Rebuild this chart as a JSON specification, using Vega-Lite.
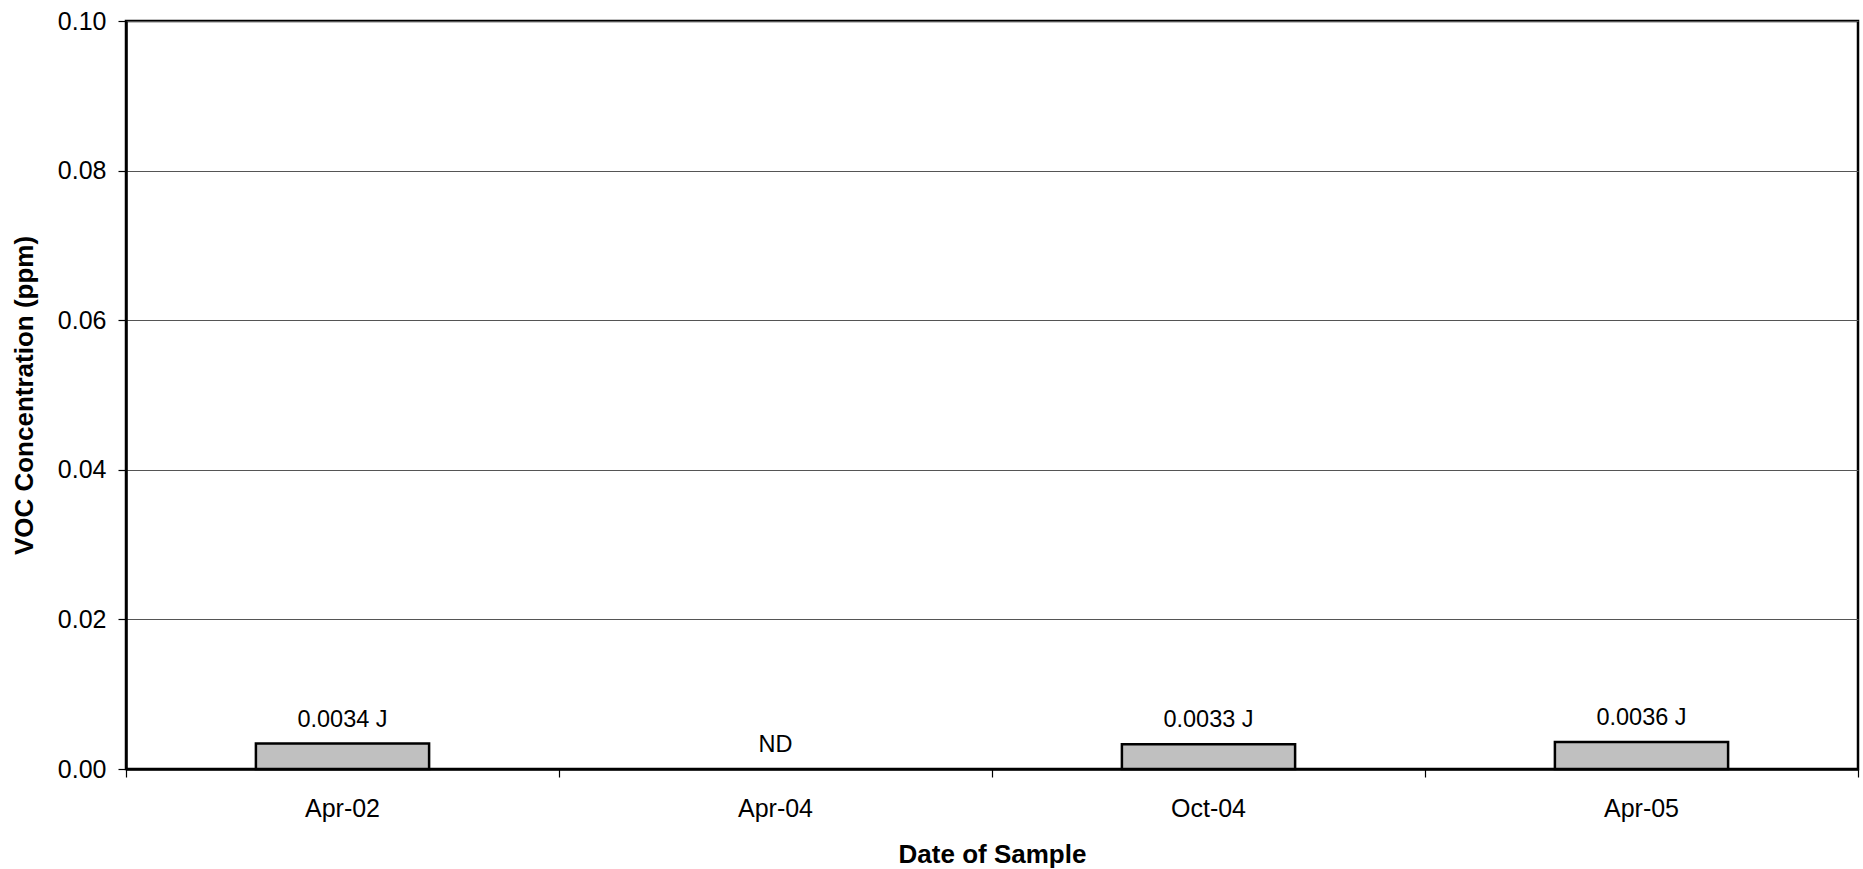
{
  "$schema": "https://vega.github.io/schema/vega-lite/v6.json",
  "width": 1732,
  "height": 748,
  "autosize": {"type": "none"},
  "padding": {"left": 126, "top": 21, "right": 5, "bottom": 100},
  "background": "white",
  "config": {
    "view": {"stroke": "#000", "strokeWidth": 2.5},
    "font": "Liberation Sans"
  },
  "data": {
    "values": [
      {"date": "Apr-02", "value": 0.0034, "label": "0.0034 J"},
      {"date": "Apr-04", "value": 0, "label": "ND"},
      {"date": "Oct-04", "value": 0.0033, "label": "0.0033 J"},
      {"date": "Apr-05", "value": 0.0036, "label": "0.0036 J"}
    ]
  },
  "encoding": {
    "x": {
      "field": "date",
      "type": "nominal",
      "sort": null,
      "scale": {"domain": ["Apr-02", "Apr-04", "Oct-04", "Apr-05"], "paddingInner": 0, "paddingOuter": 0},
      "axis": {
        "title": "Date of Sample",
        "titleFont": "Liberation Sans",
        "titleFontSize": 26,
        "titleFontWeight": "bold",
        "titleColor": "#000",
        "titleX": 866,
        "titleY": 93,
        "titleAlign": "center",
        "titleBaseline": "alphabetic",
        "labelAngle": 0,
        "labelFont": "Liberation Sans",
        "labelFontSize": 25,
        "labelColor": "#000",
        "labelBaseline": "alphabetic",
        "labelPadding": 39,
        "tickSize": 8,
        "tickColor": "#000",
        "tickWidth": 1.2,
        "bandPosition": 1,
        "tickExtra": true,
        "domainColor": "#000",
        "domainWidth": 2.5,
        "grid": false
      }
    },
    "y": {
      "field": "value",
      "type": "quantitative",
      "scale": {"domain": [0, 0.1], "nice": false},
      "axis": {
        "title": "VOC Concentration (ppm)",
        "titleFont": "Liberation Sans",
        "titleFontSize": 26,
        "titleFontWeight": "bold",
        "titleColor": "#000",
        "titleX": -102,
        "titleY": 374,
        "titleAngle": -90,
        "titleAlign": "center",
        "titleBaseline": "middle",
        "values": [0, 0.02, 0.04, 0.06, 0.08, 0.1],
        "format": ".2f",
        "labelFont": "Liberation Sans",
        "labelFontSize": 25,
        "labelColor": "#000",
        "labelPadding": 12,
        "tickSize": 8,
        "tickColor": "#000",
        "tickWidth": 1.2,
        "domainColor": "#000",
        "domainWidth": 2.5,
        "grid": true,
        "gridColor": "#555",
        "gridWidth": 1.2
      }
    }
  },
  "layer": [
    {
      "transform": [{"filter": "datum.value > 0"}],
      "mark": {"type": "bar", "width": {"band": 0.4}, "fill": "#C0C0C0", "stroke": "#000", "strokeWidth": 2.5}
    },
    {
      "mark": {"type": "text", "baseline": "alphabetic", "dy": -17, "fontSize": 23.5, "font": "Liberation Sans", "color": "#000"},
      "encoding": {"text": {"field": "label"}}
    }
  ]
}
